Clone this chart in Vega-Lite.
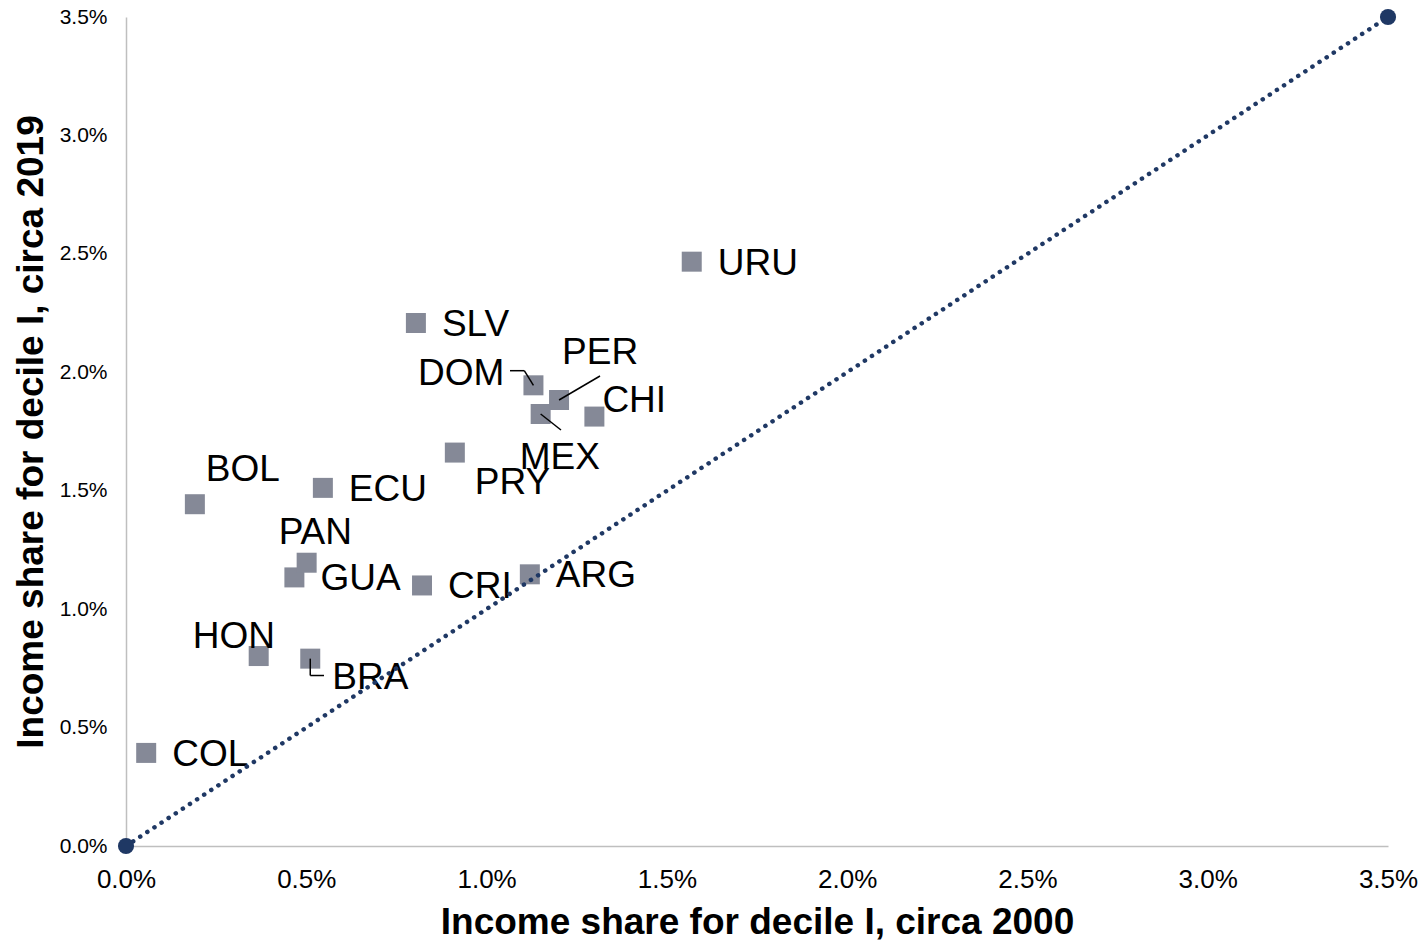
{
  "$schema": "https://vega.github.io/schema/vega-lite/v6.json",
  "width": 1262,
  "height": 829,
  "autosize": {"type": "none"},
  "padding": {"left": 126, "top": 17, "right": 34, "bottom": 97},
  "background": "white",
  "config": {"view": {"stroke": null}, "font": "Liberation Sans"},
  "datasets": {
    "countries": [
      {"country": "COL", "x": 0.056, "y": 0.393},
      {"country": "BOL", "x": 0.191, "y": 1.443},
      {"country": "HON", "x": 0.368, "y": 0.802},
      {"country": "GUA", "x": 0.467, "y": 1.134},
      {"country": "PAN", "x": 0.501, "y": 1.196},
      {"country": "BRA", "x": 0.511, "y": 0.791},
      {"country": "ECU", "x": 0.546, "y": 1.512},
      {"country": "SLV", "x": 0.804, "y": 2.208},
      {"country": "CRI", "x": 0.821, "y": 1.100},
      {"country": "PRY", "x": 0.912, "y": 1.661},
      {"country": "ARG", "x": 1.120, "y": 1.147},
      {"country": "DOM", "x": 1.130, "y": 1.945},
      {"country": "MEX", "x": 1.150, "y": 1.824},
      {"country": "PER", "x": 1.201, "y": 1.883},
      {"country": "CHI", "x": 1.299, "y": 1.813},
      {"country": "URU", "x": 1.569, "y": 2.467}
    ],
    "diag": [
      {"x": 0, "y": 0},
      {"x": 3.5, "y": 3.5}
    ]
  },
  "data": {"name": "countries"},
  "encoding": {
    "x": {
      "field": "x", "type": "quantitative",
      "scale": {"domain": [0, 3.5], "nice": false},
      "axis": {
        "values": [0, 0.5, 1, 1.5, 2, 2.5, 3, 3.5],
        "labelExpr": "format(datum.value, '.1f') + '%'",
        "grid": false, "ticks": false,
        "domainColor": "#bfbfbf", "domainWidth": 1.5,
        "labelFontSize": 26, "labelColor": "#000000", "labelPadding": 20,
        "labelFlush": false, "labelOverlap": false,
        "title": "Income share for decile I, circa 2000",
        "titleFontSize": 37, "titleFontWeight": "bold", "titleColor": "#000000", "titlePadding": 12
      }
    },
    "y": {
      "field": "y", "type": "quantitative",
      "scale": {"domain": [0, 3.5], "nice": false},
      "axis": {
        "values": [0, 0.5, 1, 1.5, 2, 2.5, 3, 3.5],
        "labelExpr": "format(datum.value, '.1f') + '%'",
        "grid": false, "ticks": false,
        "domainColor": "#bfbfbf", "domainWidth": 1.5,
        "labelFontSize": 21, "labelColor": "#000000", "labelPadding": 19,
        "labelFlush": false, "labelOverlap": false,
        "title": "Income share for decile I, circa 2019",
        "titleFontSize": 37, "titleFontWeight": "bold", "titleColor": "#000000", "titlePadding": 9
      }
    }
  },
  "layer": [
    {
      "mark": {"type": "square", "size": 400, "filled": true, "color": "#858997", "opacity": 1}
    },
    {
      "transform": [{"filter": {"field": "country", "oneOf": ["URU", "SLV", "ECU", "COL", "GUA", "CRI", "ARG"]}}],
      "mark": {"type": "text", "fontSize": 37, "color": "#000000", "align": "left", "baseline": "middle", "dx": 26, "dy": 2},
      "encoding": {"text": {"field": "country"}}
    },
    {
      "transform": [{"filter": {"field": "country", "equal": "CHI"}}],
      "mark": {"type": "text", "fontSize": 37, "color": "#000000", "align": "left", "baseline": "middle", "dx": 8, "dy": -16},
      "encoding": {"text": {"field": "country"}}
    },
    {
      "transform": [{"filter": {"field": "country", "equal": "BOL"}}],
      "mark": {"type": "text", "fontSize": 37, "color": "#000000", "align": "left", "baseline": "middle", "dx": 11, "dy": -34},
      "encoding": {"text": {"field": "country"}}
    },
    {
      "transform": [{"filter": {"field": "country", "equal": "PAN"}}],
      "mark": {"type": "text", "fontSize": 37, "color": "#000000", "align": "left", "baseline": "middle", "dx": -28, "dy": -30},
      "encoding": {"text": {"field": "country"}}
    },
    {
      "transform": [{"filter": {"field": "country", "equal": "HON"}}],
      "mark": {"type": "text", "fontSize": 37, "color": "#000000", "align": "left", "baseline": "middle", "dx": -66, "dy": -19},
      "encoding": {"text": {"field": "country"}}
    },
    {
      "transform": [{"filter": {"field": "country", "equal": "PRY"}}],
      "mark": {"type": "text", "fontSize": 37, "color": "#000000", "align": "left", "baseline": "middle", "dx": 20, "dy": 30},
      "encoding": {"text": {"field": "country"}}
    },
    {
      "transform": [{"filter": {"field": "country", "equal": "MEX"}}],
      "mark": {"type": "text", "fontSize": 37, "color": "#000000", "align": "left", "baseline": "middle", "dx": -21, "dy": 44},
      "encoding": {"text": {"field": "country"}}
    },
    {
      "transform": [{"filter": {"field": "country", "equal": "DOM"}}],
      "mark": {"type": "text", "fontSize": 37, "color": "#000000", "align": "right", "baseline": "middle", "dx": -29, "dy": -11},
      "encoding": {"text": {"field": "country"}}
    },
    {
      "transform": [{"filter": {"field": "country", "equal": "PER"}}],
      "mark": {"type": "text", "fontSize": 37, "color": "#000000", "align": "left", "baseline": "middle", "dx": 3, "dy": -47},
      "encoding": {"text": {"field": "country"}}
    },
    {
      "transform": [{"filter": {"field": "country", "equal": "BRA"}}],
      "mark": {"type": "text", "fontSize": 37, "color": "#000000", "align": "left", "baseline": "middle", "dx": 22, "dy": 19},
      "encoding": {"text": {"field": "country"}}
    },
    {
      "transform": [{"filter": {"field": "country", "equal": "DOM"}}],
      "mark": {"type": "rule", "color": "#000000", "strokeWidth": 1.5},
      "encoding": {"x2": {"datum": 1.1046}, "y2": {"datum": 2.0067}}
    },
    {
      "transform": [{"filter": {"field": "country", "equal": "DOM"}}],
      "mark": {"type": "rule", "color": "#000000", "strokeWidth": 1.5},
      "encoding": {"x": {"datum": 1.1046}, "y": {"datum": 2.0067}, "x2": {"datum": 1.065}, "y2": {"datum": 2.0067}}
    },
    {
      "transform": [{"filter": {"field": "country", "equal": "PER"}}],
      "mark": {"type": "rule", "color": "#000000", "strokeWidth": 1.5},
      "encoding": {"x2": {"datum": 1.3146}, "y2": {"datum": 1.9843}}
    },
    {
      "transform": [{"filter": {"field": "country", "equal": "MEX"}}],
      "mark": {"type": "rule", "color": "#000000", "strokeWidth": 1.5},
      "encoding": {"x2": {"datum": 1.2064}, "y2": {"datum": 1.7563}}
    },
    {
      "transform": [{"filter": {"field": "country", "equal": "BRA"}}],
      "mark": {"type": "rule", "color": "#000000", "strokeWidth": 1.5},
      "encoding": {"x2": {"datum": 0.511}, "y2": {"datum": 0.7198}}
    },
    {
      "transform": [{"filter": {"field": "country", "equal": "BRA"}}],
      "mark": {"type": "rule", "color": "#000000", "strokeWidth": 1.5},
      "encoding": {"x": {"datum": 0.511}, "y": {"datum": 0.7198}, "x2": {"datum": 0.5491}, "y2": {"datum": 0.7198}}
    },
    {
      "data": {"name": "diag"},
      "mark": {"type": "line", "color": "#1f3864", "strokeWidth": 4.5, "strokeCap": "round", "strokeDash": [0.1, 8.4]},
      "encoding": {}
    },
    {
      "data": {"name": "diag"},
      "mark": {"type": "point", "shape": "circle", "filled": true, "size": 260, "color": "#1f3864", "opacity": 1}
    }
  ]
}
